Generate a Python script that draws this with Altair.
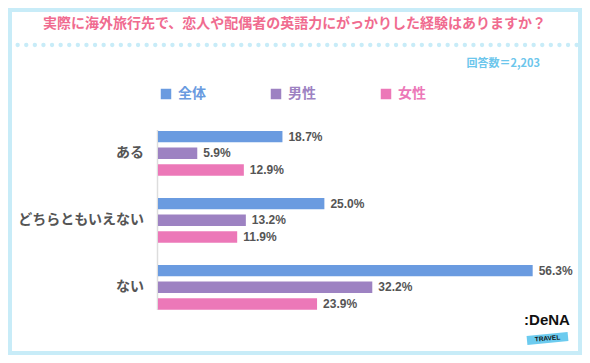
import altair as alt
import pandas as pd

categories = ["ある", "どちらともいえない", "ない"]
series = ["全体", "男性", "女性"]
values_all = [18.7, 25.0, 56.3]
values_male = [5.9, 13.2, 32.2]
values_female = [12.9, 11.9, 23.9]
colors = ["#6a9be0", "#9d82c2", "#ec78b8"]
title_text = "実際に海外旅行先で、恋人や配偶者の英語力にがっかりした経験はありますか？"
count_text = "回答数＝2,203"

rows = []
for s, vals in zip(series, [values_all, values_male, values_female]):
    for c, v in zip(categories, vals):
        rows.append({"category": c, "series": s, "value": v})
df = pd.DataFrame(rows)

JP = "Noto Sans CJK JP"
W, H = 574, 347

xscale = alt.Scale(domain=[0, 60], range=[150, 150 + 60 * 6.655], nice=False, zero=True)
yscale = alt.Scale(domain=categories, range=[111.8, 312.8], paddingInner=0, paddingOuter=0)
yoscale = alt.Scale(domain=series, paddingInner=0.315, paddingOuter=0.67)

base = alt.Chart(df)

label_color_expr = ("datum.label == '全体' ? '#6a9be0' : "
                    "(datum.label == '男性' ? '#9d82c2' : '#ec78b8')")

bars = base.mark_bar().encode(
    x=alt.X("value:Q", scale=xscale, axis=None),
    y=alt.Y("category:N", scale=yscale, axis=None, sort=categories),
    yOffset=alt.YOffset("series:N", scale=yoscale, sort=series),
    color=alt.Color(
        "series:N",
        scale=alt.Scale(domain=series, range=colors),
        sort=series,
        legend=alt.Legend(
            title=None, orient="none", direction="horizontal",
            legendX=151, legendY=79,
            symbolType="square", symbolSize=110, symbolStrokeWidth=0,
            labelFont=JP, labelFontSize=14, labelFontWeight="bold",
            labelColor={"expr": label_color_expr},
            labelOffset=5, columnPadding=63,
        ),
    ),
)

value_labels = base.mark_text(
    align="left", baseline="middle", dx=6, font="Liberation Sans",
    fontSize=12, fontWeight="bold", color="#555555",
).transform_calculate(
    label="format(datum.value, '.1f') + '%'"
).encode(
    x=alt.X("value:Q", scale=xscale, axis=None),
    y=alt.Y("category:N", scale=yscale, axis=None, sort=categories),
    yOffset=alt.YOffset("series:N", scale=yoscale, sort=series),
    text="label:N",
)

cat_df = pd.DataFrame({"category": categories})
cat_labels = alt.Chart(cat_df).mark_text(
    align="right", baseline="middle", font=JP, fontSize=14,
    fontWeight="bold", color="#555555",
).encode(
    x=alt.value(136),
    y=alt.Y("category:N", scale=yscale, axis=None, sort=categories),
    text="category:N",
)

one = alt.Data(values=[{"t": title_text, "c": count_text}])

axis_line = alt.Chart(one).mark_rule(color="#dddddd", strokeWidth=1.5).encode(
    x=alt.value(149.5), y=alt.value(122), y2=alt.value(302)
)

border = alt.Chart(one).mark_rect(
    fill="transparent", stroke="#c8ecf8", strokeWidth=4
).encode(x=alt.value(2), x2=alt.value(W - 2), y=alt.value(2), y2=alt.value(H - 2))

dots = alt.Chart(one).mark_rule(
    color="#c8ecf8", strokeWidth=4.3, strokeCap="round", strokeDash=[0.1, 8.5]
).encode(x=alt.value(1), x2=alt.value(W - 1), y=alt.value(37))

title = alt.Chart(one).mark_text(
    align="center", baseline="middle", font=JP, fontSize=14,
    fontWeight="bold", color="#f06b8f",
).encode(x=alt.value(286.5), y=alt.value(16), text="t:N")

count = alt.Chart(one).mark_text(
    align="right", baseline="middle", font=JP, fontSize=11,
    fontWeight="bold", color="#6cc6ec",
).encode(x=alt.value(532), y=alt.value(55.5), text="c:N")

logo_band = alt.Chart(one).mark_rule(color="#6ccbef", strokeWidth=9).encode(
    x=alt.value(519), x2=alt.value(560), y=alt.value(332.5), y2=alt.value(328.5)
)
logo_travel = alt.Chart(one).mark_text(
    align="center", baseline="middle", font="Liberation Sans", fontSize=6.5,
    fontWeight="bold", color="#111111", angle=355,
).encode(x=alt.value(539.5), y=alt.value(330.5), text=alt.value("TRAVEL"))
logo_dena = alt.Chart(one).mark_text(
    align="center", baseline="middle", font="Liberation Sans", fontSize=15,
    fontWeight="bold", color="#111111",
).encode(x=alt.value(539), y=alt.value(311.5), text=alt.value(":DeNA"))

chart = alt.layer(
    border, dots, title, count, axis_line, bars, value_labels, cat_labels,
    logo_band, logo_travel, logo_dena,
).properties(
    width=W, height=H, padding=0, autosize=alt.AutoSizeParams(type="none"),
    background="white",
).configure_view(stroke=None)

chart.save("out.html", embed_options={"renderer": "svg", "actions": False})
